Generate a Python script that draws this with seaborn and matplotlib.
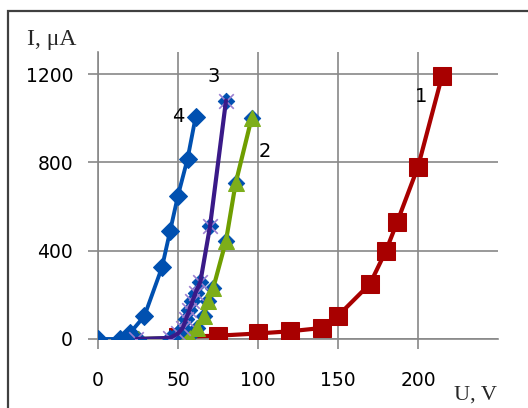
import matplotlib
matplotlib.use("Agg")
import matplotlib.pyplot as plt
import seaborn as sns
import pandas as pd
from matplotlib.patches import Rectangle

# Data
u1 = [50, 75, 100, 120, 140, 150, 170, 180, 187, 200, 215]
i1 = [10, 15, 25, 35, 50, 105, 250, 400, 530, 780, 1190]

u2 = [25, 50, 57, 62, 66, 69, 72, 80, 86, 96]
i2 = [0, 5, 15, 50, 105, 170, 230, 445, 705, 1000]

u3 = [24, 45, 50, 53, 55, 57, 59, 61, 64, 70, 80]
i3 = [0, 5, 25, 50, 90, 130, 170, 210, 260, 510, 1080]

u4 = [0, 14, 20, 29, 40, 45, 50, 56, 61]
i4 = [0, 0, 27, 104, 325, 487, 650, 817, 1005]

x_ticks = [0, 50, 100, 150, 200]
y_ticks = [0, 400, 800, 1200]
curve_labels = ["1", "2", "3", "4"]
label_pos_u = [202, 104, 72, 50]
label_pos_i = [1100, 850, 1190, 1010]

RED = "#A80000"
GREEN = "#6F9E00"
GREEN_M = "#7DAE1A"
PURPLE = "#3A1A88"
BLUE = "#0050B0"
GRID = "#888888"

sns.set_style("white")
plt.rcParams['font.family'] = ['DejaVu Sans']

fig = plt.figure(figsize=(5.28, 4.08), dpi=100)
ax = fig.add_axes([98/528, (408-339)/408, 400/528, 287/408])

d1 = pd.DataFrame({"U": u1, "I": i1})
d2 = pd.DataFrame({"U": u2, "I": i2})
d3 = pd.DataFrame({"U": u3, "I": i3})
d4 = pd.DataFrame({"U": u4, "I": i4})

sns.lineplot(data=d1, x="U", y="I", sort=False, color=RED, lw=3, marker="s",
             markersize=13, markeredgecolor=RED, ax=ax, zorder=3)
sns.lineplot(data=d4, x="U", y="I", sort=False, color=BLUE, lw=2.8, marker="D",
             markersize=9, markeredgecolor=BLUE, ax=ax, zorder=4)
sns.scatterplot(data=d2, x="U", y="I", color=BLUE, marker="D", s=70,
                edgecolor=BLUE, ax=ax, zorder=5)
sns.lineplot(data=d2, x="U", y="I", sort=False, color=GREEN, lw=3, marker="^",
             markersize=11, markerfacecolor=GREEN_M, markeredgecolor=GREEN_M, ax=ax, zorder=6)
sns.scatterplot(data=d3, x="U", y="I", color=BLUE, marker="D", s=70,
                edgecolor=BLUE, ax=ax, zorder=7)
sns.scatterplot(data=d3, x="U", y="I", color="#9B7FD0", marker="x", s=110,
                linewidth=1.2, ax=ax, zorder=8)
sns.lineplot(data=d3, x="U", y="I", sort=False, color=PURPLE, lw=3, ax=ax, zorder=9)

for t, xu, yi in zip(curve_labels, label_pos_u, label_pos_i):
    ax.text(xu, yi, t, fontsize=14, ha="center", va="center", color="black", zorder=10)

ax.set_xlim(0, 250)
ax.set_ylim(0, 1300)
ax.set_xticks(x_ticks)
ax.set_yticks(y_ticks)
ax.set_xticklabels([str(v) for v in x_ticks])
ax.set_yticklabels([str(v) for v in y_ticks])
ax.set_xlabel("")
ax.set_ylabel("")
ax.grid(True, color=GRID, lw=1.2)
ax.set_axisbelow(True)
for s in ["top", "right"]:
    ax.spines[s].set_visible(False)
for s in ["left", "bottom"]:
    ax.spines[s].set_color(GRID)
    ax.spines[s].set_linewidth(1.2)
ax.tick_params(axis="both", direction="out", length=7, width=1.2, color=GRID,
               labelsize=13.5, labelcolor="black")
ax.tick_params(axis="x", pad=16, bottom=True)
ax.tick_params(axis="y", pad=11, left=True)

fig.text(52/528, 1 - 40/408, "I, μA", fontsize=17, family="Liberation Serif",
         ha="center", va="center")
fig.text(476/528, 1 - 395/408, "U, V", fontsize=16, family="Liberation Serif",
         ha="center", va="center")

fig.add_artist(Rectangle((8/528, -0.2), 1.5, (408-11)/408 + 0.2, transform=fig.transFigure,
                         fill=False, edgecolor="#404040", lw=1.6))

fig.savefig("out.png", dpi=100)
